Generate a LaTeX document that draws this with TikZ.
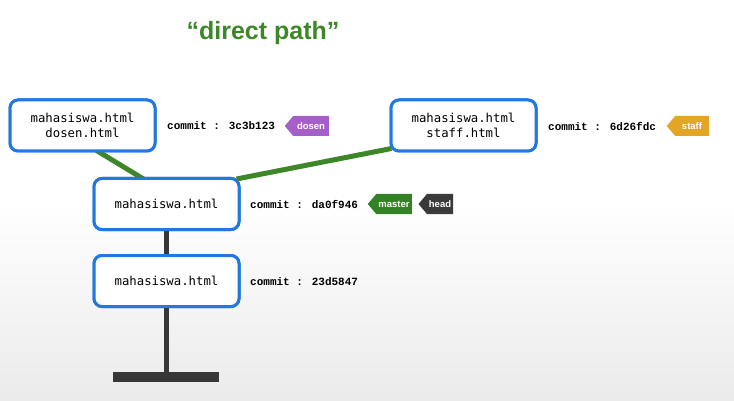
\documentclass[tikz,border=0pt]{standalone}
\usepackage{fontspec}
\setmainfont{Liberation Sans}
\newfontfamily\boxmono{DejaVu Sans Mono}
\newfontfamily\commitmono{Liberation Mono}
\usetikzlibrary{shapes.symbols,calc}
\definecolor{boxblue}{RGB}{34,120,222}
\definecolor{pathgreen}{RGB}{62,135,40}
\definecolor{darkline}{RGB}{55,55,55}
\definecolor{tagpurple}{RGB}{166,95,200}
\definecolor{tagorange}{RGB}{226,166,36}
\definecolor{taggreen}{RGB}{52,130,38}
\definecolor{tagdark}{RGB}{58,58,58}
\tikzset{
  commitbox/.style={draw=boxblue, line width=3pt, rounded corners=8pt, fill=white,
    minimum width=145pt, minimum height=51pt, align=center,
    font=\boxmono\fontsize{12.3}{15}\selectfont},
  commitlabel/.style={anchor=west, inner sep=0pt, font=\commitmono\bfseries\fontsize{11}{13}\selectfont},
  tag/.style={signal, signal to=west, signal pointer angle=100, fill=#1, text=white,
    minimum height=20pt, inner sep=2pt, inner xsep=2pt, font=\bfseries\fontsize{9.5}{11}\selectfont},
  greenpath/.style={draw=pathgreen, line width=5pt},
  trunk/.style={draw=darkline, line width=5pt}
}
\begin{document}
\begin{tikzpicture}[x=1pt,y=-1pt]
\shade[top color=white, bottom color=black!8, middle color=white] (0,0) rectangle (734,401);
\useasboundingbox (0,0) rectangle (734,401);
\node[font=\bfseries\fontsize{25}{30}\selectfont, text=pathgreen] (title) at (263,33) {“direct path”};
% nodes
\node[commitbox] (A) at (82.5,125.5) {mahasiswa.html\\dosen.html};
\node[commitbox] (B) at (463.5,125.5) {mahasiswa.html\\staff.html};
\node[commitbox] (C) at (166.5,204) {mahasiswa.html};
\node[commitbox] (D) at (166.5,281) {mahasiswa.html};
\coordinate (base) at (166.5,372);
% connectors behind boxes
\path[greenpath] ($(A.south)+(14,-2)$) -- ($(C.north)+(-23,2)$);
\path[greenpath] ($(C.north east)+(-4,2)$) -- ($(B.south west)+(2,-4)$);
\path[trunk] (C.south) -- (D.north);
\path[trunk] (D.south) -- (base);
\fill[darkline] (113,372) rectangle (219,382);
% redraw boxes on top
\node[commitbox] at (A) {mahasiswa.html\\dosen.html};
\node[commitbox] at (B) {mahasiswa.html\\staff.html};
\node[commitbox] at (C) {mahasiswa.html};
\node[commitbox] at (D) {mahasiswa.html};
% commit labels
\node[commitlabel] (ca) at (167,126) {commit : 3c3b123};
\node[commitlabel] (cb) at (548,126) {commit : 6d26fdc};
\node[commitlabel] (cc) at (250,204) {commit : da0f946};
\node[commitlabel] (cd) at (250,282) {commit : 23d5847};
% tags
\node[tag=tagpurple, minimum width=44pt] (tdosen) at (311,126) {dosen};
\node[tag=tagorange, minimum width=42pt] (tstaff) at (692,126) {staff};
\node[tag=taggreen, minimum width=44pt] (tmaster) at (394,204) {master};
\node[tag=tagdark, minimum width=34pt] (thead) at (440,204) {head};
\end{tikzpicture}
\end{document}
